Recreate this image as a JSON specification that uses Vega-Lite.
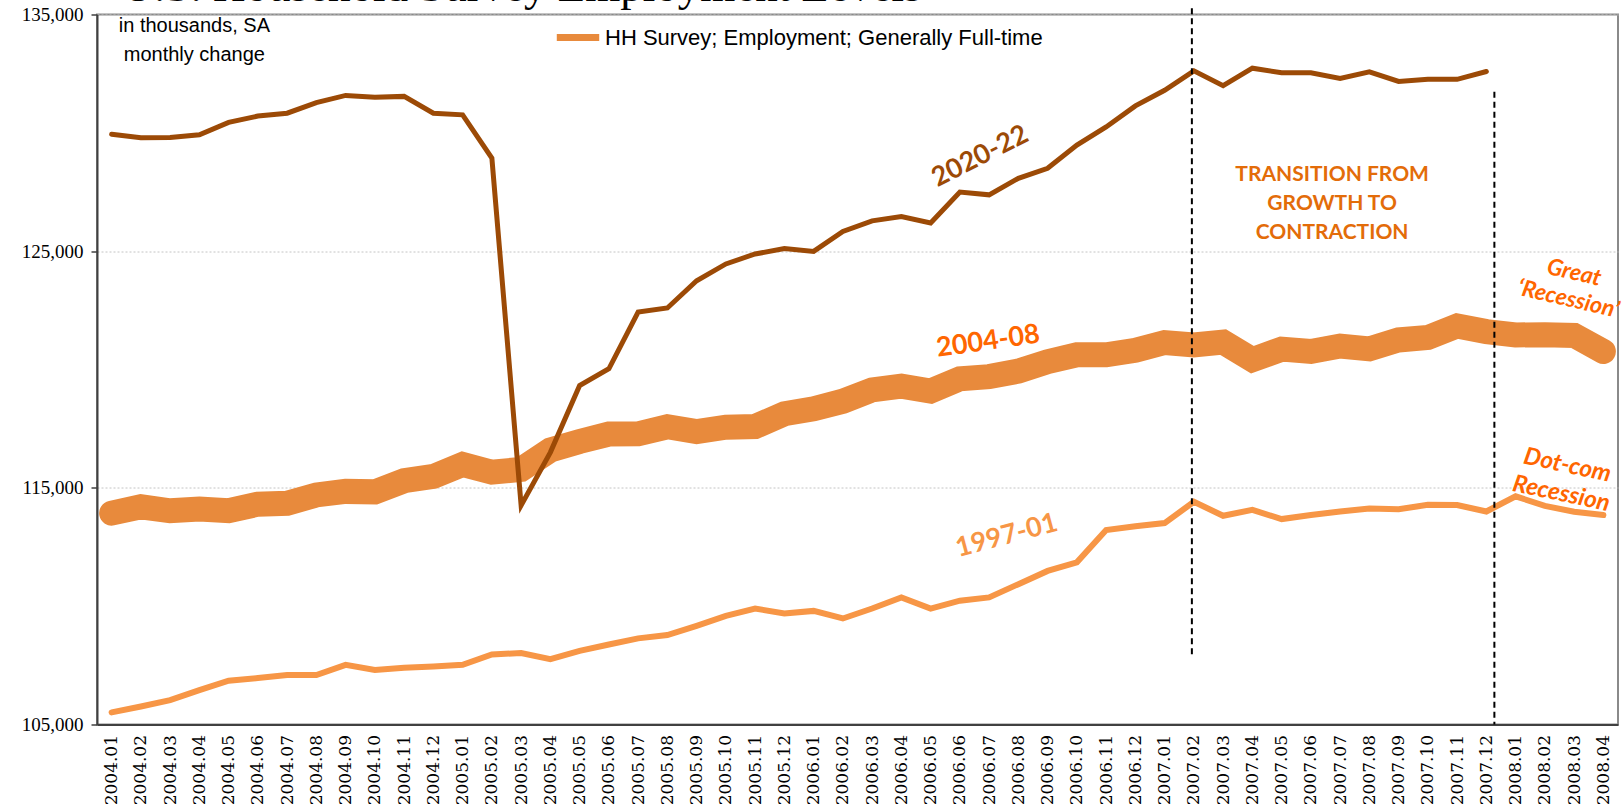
{
  "$schema": "https://vega.github.io/schema/vega-lite/v6.json",
  "width": 1521,
  "height": 710,
  "autosize": {"type": "none"},
  "padding": {"left": 97, "top": 14.5, "right": 5, "bottom": 84.5},
  "background": "white",
  "config": {
    "view": {"stroke": "#8a8a8a", "strokeWidth": 2},
    "axisX": {
      "title": null,
      "labelAngle": 270,
      "labelFont": "DejaVu Serif",
      "labelFontSize": 17,
      "labelColor": "#000000",
      "ticks": false,
      "domainColor": "#404040",
      "domainWidth": 2,
      "labelPadding": 10,
      "grid": false
    },
    "axisY": {
      "title": null,
      "labelFont": "Liberation Serif",
      "labelFontSize": 19,
      "labelColor": "#000000",
      "tickSize": 6,
      "tickColor": "#404040",
      "tickWidth": 1.5,
      "domainColor": "#404040",
      "domainWidth": 2,
      "grid": true,
      "gridColor": "#c4c4c4",
      "gridDash": [2, 2],
      "gridWidth": 1,
      "labelPadding": 8
    }
  },
  "datasets": {
    "series": [
      {"month": "2004.01", "series": "2020-22", "value": 129940},
      {"month": "2004.02", "series": "2020-22", "value": 129790},
      {"month": "2004.03", "series": "2020-22", "value": 129800},
      {"month": "2004.04", "series": "2020-22", "value": 129920},
      {"month": "2004.05", "series": "2020-22", "value": 130440},
      {"month": "2004.06", "series": "2020-22", "value": 130710},
      {"month": "2004.07", "series": "2020-22", "value": 130830},
      {"month": "2004.08", "series": "2020-22", "value": 131280},
      {"month": "2004.09", "series": "2020-22", "value": 131580},
      {"month": "2004.10", "series": "2020-22", "value": 131500},
      {"month": "2004.11", "series": "2020-22", "value": 131540},
      {"month": "2004.12", "series": "2020-22", "value": 130830},
      {"month": "2005.01", "series": "2020-22", "value": 130760},
      {"month": "2005.02", "series": "2020-22", "value": 128930},
      {"month": "2005.03", "series": "2020-22", "value": 114260},
      {"month": "2005.04", "series": "2020-22", "value": 116500},
      {"month": "2005.05", "series": "2020-22", "value": 119320},
      {"month": "2005.06", "series": "2020-22", "value": 120030},
      {"month": "2005.07", "series": "2020-22", "value": 122430},
      {"month": "2005.08", "series": "2020-22", "value": 122600},
      {"month": "2005.09", "series": "2020-22", "value": 123750},
      {"month": "2005.10", "series": "2020-22", "value": 124460},
      {"month": "2005.11", "series": "2020-22", "value": 124880},
      {"month": "2005.12", "series": "2020-22", "value": 125110},
      {"month": "2006.01", "series": "2020-22", "value": 124990},
      {"month": "2006.02", "series": "2020-22", "value": 125830},
      {"month": "2006.03", "series": "2020-22", "value": 126280},
      {"month": "2006.04", "series": "2020-22", "value": 126460},
      {"month": "2006.05", "series": "2020-22", "value": 126190},
      {"month": "2006.06", "series": "2020-22", "value": 127500},
      {"month": "2006.07", "series": "2020-22", "value": 127380},
      {"month": "2006.08", "series": "2020-22", "value": 128080},
      {"month": "2006.09", "series": "2020-22", "value": 128500},
      {"month": "2006.10", "series": "2020-22", "value": 129480},
      {"month": "2006.11", "series": "2020-22", "value": 130250},
      {"month": "2006.12", "series": "2020-22", "value": 131140},
      {"month": "2007.01", "series": "2020-22", "value": 131800},
      {"month": "2007.02", "series": "2020-22", "value": 132620},
      {"month": "2007.03", "series": "2020-22", "value": 131990},
      {"month": "2007.04", "series": "2020-22", "value": 132730},
      {"month": "2007.05", "series": "2020-22", "value": 132540},
      {"month": "2007.06", "series": "2020-22", "value": 132540},
      {"month": "2007.07", "series": "2020-22", "value": 132300},
      {"month": "2007.08", "series": "2020-22", "value": 132580},
      {"month": "2007.09", "series": "2020-22", "value": 132170},
      {"month": "2007.10", "series": "2020-22", "value": 132260},
      {"month": "2007.11", "series": "2020-22", "value": 132260},
      {"month": "2007.12", "series": "2020-22", "value": 132590},

      {"month": "2004.01", "series": "2004-08", "value": 113930},
      {"month": "2004.02", "series": "2004-08", "value": 114200},
      {"month": "2004.03", "series": "2004-08", "value": 114030},
      {"month": "2004.04", "series": "2004-08", "value": 114100},
      {"month": "2004.05", "series": "2004-08", "value": 114030},
      {"month": "2004.06", "series": "2004-08", "value": 114310},
      {"month": "2004.07", "series": "2004-08", "value": 114350},
      {"month": "2004.08", "series": "2004-08", "value": 114700},
      {"month": "2004.09", "series": "2004-08", "value": 114850},
      {"month": "2004.10", "series": "2004-08", "value": 114830},
      {"month": "2004.11", "series": "2004-08", "value": 115300},
      {"month": "2004.12", "series": "2004-08", "value": 115480},
      {"month": "2005.01", "series": "2004-08", "value": 115990},
      {"month": "2005.02", "series": "2004-08", "value": 115660},
      {"month": "2005.03", "series": "2004-08", "value": 115780},
      {"month": "2005.04", "series": "2004-08", "value": 116600},
      {"month": "2005.05", "series": "2004-08", "value": 116960},
      {"month": "2005.06", "series": "2004-08", "value": 117270},
      {"month": "2005.07", "series": "2004-08", "value": 117280},
      {"month": "2005.08", "series": "2004-08", "value": 117580},
      {"month": "2005.09", "series": "2004-08", "value": 117380},
      {"month": "2005.10", "series": "2004-08", "value": 117560},
      {"month": "2005.11", "series": "2004-08", "value": 117590},
      {"month": "2005.12", "series": "2004-08", "value": 118130},
      {"month": "2006.01", "series": "2004-08", "value": 118340},
      {"month": "2006.02", "series": "2004-08", "value": 118660},
      {"month": "2006.03", "series": "2004-08", "value": 119140},
      {"month": "2006.04", "series": "2004-08", "value": 119300},
      {"month": "2006.05", "series": "2004-08", "value": 119090},
      {"month": "2006.06", "series": "2004-08", "value": 119610},
      {"month": "2006.07", "series": "2004-08", "value": 119700},
      {"month": "2006.08", "series": "2004-08", "value": 119930},
      {"month": "2006.09", "series": "2004-08", "value": 120330},
      {"month": "2006.10", "series": "2004-08", "value": 120620},
      {"month": "2006.11", "series": "2004-08", "value": 120620},
      {"month": "2006.12", "series": "2004-08", "value": 120810},
      {"month": "2007.01", "series": "2004-08", "value": 121140},
      {"month": "2007.02", "series": "2004-08", "value": 121040},
      {"month": "2007.03", "series": "2004-08", "value": 121160},
      {"month": "2007.04", "series": "2004-08", "value": 120410},
      {"month": "2007.05", "series": "2004-08", "value": 120860},
      {"month": "2007.06", "series": "2004-08", "value": 120760},
      {"month": "2007.07", "series": "2004-08", "value": 120990},
      {"month": "2007.08", "series": "2004-08", "value": 120870},
      {"month": "2007.09", "series": "2004-08", "value": 121250},
      {"month": "2007.10", "series": "2004-08", "value": 121350},
      {"month": "2007.11", "series": "2004-08", "value": 121840},
      {"month": "2007.12", "series": "2004-08", "value": 121600},
      {"month": "2008.01", "series": "2004-08", "value": 121460},
      {"month": "2008.02", "series": "2004-08", "value": 121470},
      {"month": "2008.03", "series": "2004-08", "value": 121440},
      {"month": "2008.04", "series": "2004-08", "value": 120760},

      {"month": "2004.01", "series": "1997-01", "value": 105510},
      {"month": "2004.02", "series": "1997-01", "value": 105760},
      {"month": "2004.03", "series": "1997-01", "value": 106030},
      {"month": "2004.04", "series": "1997-01", "value": 106450},
      {"month": "2004.05", "series": "1997-01", "value": 106850},
      {"month": "2004.06", "series": "1997-01", "value": 106960},
      {"month": "2004.07", "series": "1997-01", "value": 107090},
      {"month": "2004.08", "series": "1997-01", "value": 107090},
      {"month": "2004.09", "series": "1997-01", "value": 107520},
      {"month": "2004.10", "series": "1997-01", "value": 107300},
      {"month": "2004.11", "series": "1997-01", "value": 107400},
      {"month": "2004.12", "series": "1997-01", "value": 107450},
      {"month": "2005.01", "series": "1997-01", "value": 107520},
      {"month": "2005.02", "series": "1997-01", "value": 107960},
      {"month": "2005.03", "series": "1997-01", "value": 108020},
      {"month": "2005.04", "series": "1997-01", "value": 107760},
      {"month": "2005.05", "series": "1997-01", "value": 108110},
      {"month": "2005.06", "series": "1997-01", "value": 108380},
      {"month": "2005.07", "series": "1997-01", "value": 108640},
      {"month": "2005.08", "series": "1997-01", "value": 108780},
      {"month": "2005.09", "series": "1997-01", "value": 109170},
      {"month": "2005.10", "series": "1997-01", "value": 109590},
      {"month": "2005.11", "series": "1997-01", "value": 109900},
      {"month": "2005.12", "series": "1997-01", "value": 109690},
      {"month": "2006.01", "series": "1997-01", "value": 109800},
      {"month": "2006.02", "series": "1997-01", "value": 109480},
      {"month": "2006.03", "series": "1997-01", "value": 109900},
      {"month": "2006.04", "series": "1997-01", "value": 110370},
      {"month": "2006.05", "series": "1997-01", "value": 109900},
      {"month": "2006.06", "series": "1997-01", "value": 110230},
      {"month": "2006.07", "series": "1997-01", "value": 110370},
      {"month": "2006.08", "series": "1997-01", "value": 110930},
      {"month": "2006.09", "series": "1997-01", "value": 111490},
      {"month": "2006.10", "series": "1997-01", "value": 111850},
      {"month": "2006.11", "series": "1997-01", "value": 113220},
      {"month": "2006.12", "series": "1997-01", "value": 113380},
      {"month": "2007.01", "series": "1997-01", "value": 113510},
      {"month": "2007.02", "series": "1997-01", "value": 114410},
      {"month": "2007.03", "series": "1997-01", "value": 113820},
      {"month": "2007.04", "series": "1997-01", "value": 114070},
      {"month": "2007.05", "series": "1997-01", "value": 113680},
      {"month": "2007.06", "series": "1997-01", "value": 113850},
      {"month": "2007.07", "series": "1997-01", "value": 114000},
      {"month": "2007.08", "series": "1997-01", "value": 114130},
      {"month": "2007.09", "series": "1997-01", "value": 114100},
      {"month": "2007.10", "series": "1997-01", "value": 114280},
      {"month": "2007.11", "series": "1997-01", "value": 114270},
      {"month": "2007.12", "series": "1997-01", "value": 114000},
      {"month": "2008.01", "series": "1997-01", "value": 114640},
      {"month": "2008.02", "series": "1997-01", "value": 114240},
      {"month": "2008.03", "series": "1997-01", "value": 113990},
      {"month": "2008.04", "series": "1997-01", "value": 113850}
    ],
    "rules": [
      {"month": "2007.02", "top": 135260, "bottom": 107960},
      {"month": "2007.12", "top": 131740, "bottom": 105000}
    ],
    "notes": [
      {"key": "title", "month": "2004.01", "value": 135550, "text": "U.S. Household Survey Employment Levels"},
      {"key": "a2020", "month": "2006.07", "value": 129190, "text": "2020-22"},
      {"key": "a2004", "month": "2006.07", "value": 121180, "text": "2004-08"},
      {"key": "a1997", "month": "2006.08", "value": 113100, "text": "1997-01"},
      {"key": "trans", "month": "2007.07", "value": 128220, "text": "TRANSITION FROM\nGROWTH TO\nCONTRACTION"},
      {"key": "great", "month": "2008.03", "value": 124080, "text": "Great\n‘Recession’"},
      {"key": "dotcom", "month": "2008.03", "value": 115875, "text": "Dot-com\nRecession"},
      {"key": "units", "month": "2004.04", "value": 134510, "text": "in thousands, SA\nmonthly change"}
    ]
  },
  "encoding": {
    "x": {"field": "month", "type": "ordinal", "scale": {"type": "point", "padding": 0.5}},
    "y": {
      "field": "value",
      "type": "quantitative",
      "scale": {"domain": [105000, 135000], "nice": false, "zero": false},
      "axis": {"values": [105000, 115000, 125000, 135000], "format": ",.0f"}
    }
  },
  "layer": [
    {
      "data": {"name": "series"},
      "transform": [{"filter": "datum.series === '2004-08'"}],
      "mark": {"type": "line", "strokeWidth": 25, "strokeCap": "round", "strokeJoin": "miter", "clip": false},
      "encoding": {
        "color": {
          "field": "series",
          "type": "nominal",
          "scale": {"domain": ["2004-08"], "range": ["#E88A3C"]},
          "legend": {
            "orient": "none",
            "legendX": 456,
            "legendY": -2,
            "direction": "horizontal",
            "title": null,
            "padding": 0,
            "symbolType": "stroke",
            "symbolStrokeWidth": 7,
            "symbolSize": 1800,
            "labelExpr": "'HH Survey; Employment; Generally Full-time'",
            "labelFont": "Liberation Sans",
            "labelFontSize": 22,
            "labelColor": "#000000",
            "labelOffset": 2,
            "labelLimit": 700
          }
        }
      }
    },
    {
      "data": {"name": "series"},
      "transform": [{"filter": "datum.series === '2020-22'"}],
      "mark": {"type": "line", "strokeWidth": 5, "color": "#9C4A06", "strokeCap": "round", "clip": false},
      "encoding": {}
    },
    {
      "data": {"name": "series"},
      "transform": [{"filter": "datum.series === '1997-01'"}],
      "mark": {"type": "line", "strokeWidth": 6, "color": "#F79646", "strokeCap": "round", "clip": false},
      "encoding": {}
    },
    {
      "data": {"name": "rules"},
      "transform": [{"filter": "datum.month === '2007.02'"}],
      "mark": {"type": "rule", "color": "#000000", "strokeWidth": 2, "strokeDash": [6, 4], "xOffset": -2, "clip": false},
      "encoding": {
        "y": {"field": "top", "type": "quantitative"},
        "y2": {"field": "bottom"}
      }
    },
    {
      "data": {"name": "rules"},
      "transform": [{"filter": "datum.month === '2007.12'"}],
      "mark": {"type": "rule", "color": "#000000", "strokeWidth": 2, "strokeDash": [6, 4], "xOffset": 8, "clip": false},
      "encoding": {
        "y": {"field": "top", "type": "quantitative"},
        "y2": {"field": "bottom"}
      }
    },
    {
      "data": {"name": "notes"},
      "transform": [{"filter": "datum.key === 'title'"}],
      "mark": {"type": "text", "font": "Liberation Serif", "fontSize": 45, "color": "#000000", "dx": 10, "align": "left", "baseline": "alphabetic", "clip": false},
      "encoding": {"text": {"field": "text"}}
    },
    {
      "data": {"name": "notes"},
      "transform": [{"filter": "datum.key === 'a2020'"}],
      "mark": {"type": "text", "font": "Lato", "fontWeight": "bold", "fontSize": 27, "color": "#9C4A06", "angle": 333, "dx": -10, "align": "center", "baseline": "middle"},
      "encoding": {"text": {"field": "text"}}
    },
    {
      "data": {"name": "notes"},
      "transform": [{"filter": "datum.key === 'a2004'"}],
      "mark": {"type": "text", "font": "Lato", "fontWeight": "bold", "fontSize": 27, "color": "#FF6600", "angle": 352, "dx": -1, "align": "center", "baseline": "middle"},
      "encoding": {"text": {"field": "text"}}
    },
    {
      "data": {"name": "notes"},
      "transform": [{"filter": "datum.key === 'a1997'"}],
      "mark": {"type": "text", "font": "Lato", "fontWeight": "bold", "fontSize": 27, "color": "#F79646", "angle": 345, "dx": -12, "align": "center", "baseline": "middle"},
      "encoding": {"text": {"field": "text"}}
    },
    {
      "data": {"name": "notes"},
      "transform": [{"filter": "datum.key === 'trans'"}],
      "mark": {"type": "text", "font": "Lato", "fontWeight": "bold", "fontSize": 21, "color": "#E36C09", "lineBreak": "\n", "lineHeight": 29, "dx": -8, "align": "center", "baseline": "middle"},
      "encoding": {"text": {"field": "text"}}
    },
    {
      "data": {"name": "notes"},
      "transform": [{"filter": "datum.key === 'great'"}],
      "mark": {"type": "text", "font": "Lato", "fontWeight": "bold", "fontStyle": "italic", "fontSize": 23, "color": "#FF6600", "lineBreak": "\n", "lineHeight": 27, "angle": 13, "dx": 0, "align": "center", "baseline": "middle"},
      "encoding": {"text": {"field": "text"}}
    },
    {
      "data": {"name": "notes"},
      "transform": [{"filter": "datum.key === 'dotcom'"}],
      "mark": {"type": "text", "font": "Lato", "fontWeight": "bold", "fontStyle": "italic", "fontSize": 24, "color": "#FF6600", "lineBreak": "\n", "lineHeight": 29, "angle": 12, "dx": -7, "align": "center", "baseline": "middle"},
      "encoding": {"text": {"field": "text"}}
    },
    {
      "data": {"name": "notes"},
      "transform": [{"filter": "datum.key === 'units'"}],
      "mark": {"type": "text", "font": "Liberation Sans", "fontSize": 20, "color": "#000000", "lineBreak": "\n", "lineHeight": 29, "dx": -5, "align": "center", "baseline": "middle"},
      "encoding": {"text": {"field": "text"}}
    }
  ]
}
